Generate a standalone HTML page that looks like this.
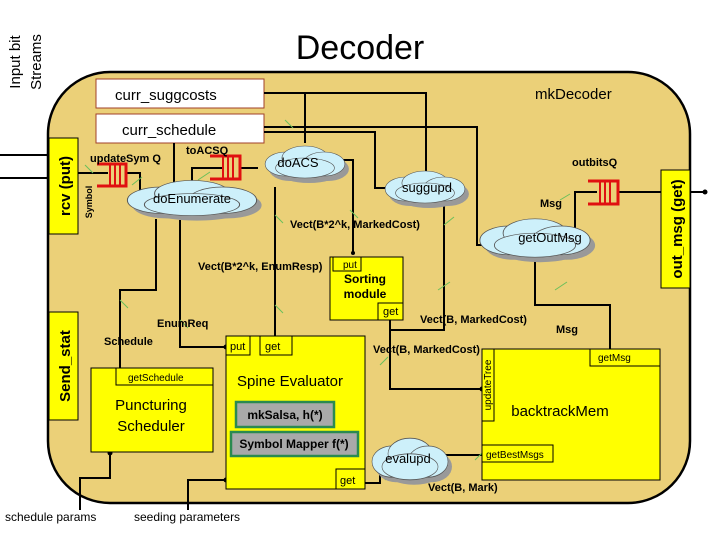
<!DOCTYPE html>
<html><head><meta charset="utf-8"><style>
body{margin:0;background:#fff;}
svg{display:block;font-family:"Liberation Sans",sans-serif;}
.b{font-weight:bold;font-size:11px;}
</style></head><body>
<svg width="720" height="540" viewBox="0 0 720 540" xmlns="http://www.w3.org/2000/svg">
<defs>
<g id="cl">
<ellipse cx="-18" cy="2" rx="20" ry="12"/><ellipse cx="0" cy="-4" rx="22" ry="12"/><ellipse cx="18" cy="2" rx="20" ry="12"/><ellipse cx="0" cy="6" rx="28" ry="10"/>
</g>
<marker id="ar" markerWidth="6" markerHeight="6" refX="5" refY="3" orient="auto"><path d="M0,0 L6,3 L0,6z" fill="#000"/></marker>
</defs>
<text x="360" y="59" font-size="34" text-anchor="middle">Decoder</text>
<text transform="translate(20,62) rotate(-90)" font-size="15" text-anchor="middle">Input bit</text>
<text transform="translate(41,62) rotate(-90)" font-size="15" text-anchor="middle">Streams</text>
<rect x="48" y="72" width="642" height="431" rx="62" fill="#ebd078" stroke="#000" stroke-width="2.5"/>
<rect x="96" y="79" width="168" height="29" fill="#fff" stroke="#a0402a"/>
<text x="115" y="100" font-size="15">curr_suggcosts</text>
<rect x="96" y="114" width="168" height="29" fill="#fff" stroke="#a0402a"/>
<text x="122" y="135" font-size="15">curr_schedule</text>
<text x="535" y="99" font-size="15">mkDecoder</text>
<!-- lines -->
<g stroke="#000" stroke-width="2" fill="none">
<path d="M0,155H49M0,178H49"/>
<path d="M264,93H426V172M305,93V143"/>
<path d="M264,127H477V245H500M264,132H375V188H386"/>
<path d="M78,173H108M126,173H140V195H150M174,143V187M192,187V168H222M240,168H258"/>
<path d="M330,160H353V253"/>
<path d="M275,187V336"/>
<path d="M156,219V290H120V368"/>
<path d="M180,220V347H226"/>
<path d="M444,193V330H390V389H482M390,320V330"/>
<path d="M535,253V305H610V349"/>
<path d="M575,228V192H597M618,192H705"/>
<path d="M482,455H432"/>
<path d="M365,483H380V472"/>
<path d="M80,510V478H110V452M188,510V480H226"/>
</g>
<g fill="#000"><circle cx="49" cy="155" r="2.5"/><circle cx="49" cy="178" r="2.5"/><circle cx="705" cy="192" r="2.5"/><circle cx="110" cy="453" r="2.5"/><circle cx="226" cy="480" r="2.5"/><circle cx="226" cy="347" r="2.5"/><circle cx="482" cy="389" r="2.5"/><circle cx="432" cy="455" r="2.5"/><circle cx="444" cy="195" r="2"/><circle cx="353" cy="253" r="2"/></g>
<!-- green ticks -->
<g stroke="#6bbf5a" stroke-width="1">
<path d="M85,165l8,8M132,185l10,-8M198,180l12,-8M285,120l8,8M326,175l10,-8M350,210l8,8M444,225l10,-8M438,290l12,-8M560,200l10,-6M555,290l12,-8M275,215l8,8M275,305l8,8M120,300l8,8M180,320l8,8M380,365l8,-8M385,480l8,-8M475,460l8,-8"/>
</g>
<!-- side boxes -->
<rect x="49" y="138" width="29" height="96" fill="#ffff00" stroke="#000"/>
<text transform="translate(70,186) rotate(-90)" font-size="15" font-weight="bold" text-anchor="middle">rcv (put)</text>
<text transform="translate(92,202) rotate(-90)" font-size="9" font-weight="bold" text-anchor="middle">Symbol</text>
<rect x="661" y="170" width="29" height="118" fill="#ffff00" stroke="#000"/>
<text transform="translate(682,229) rotate(-90)" font-size="15" font-weight="bold" text-anchor="middle">out_msg (get)</text>
<rect x="49" y="312" width="29" height="108" fill="#ffff00" stroke="#000"/>
<text transform="translate(70,366) rotate(-90)" font-size="15" font-weight="bold" text-anchor="middle">Send_stat</text>
<!-- queues -->
<g fill="none" stroke="#e01010" stroke-width="3">
<path d="M97,164H126V186H97"/><path d="M210,156H240V179H210"/><path d="M588,181H618V204H588"/>
</g>
<g stroke="#e01010" stroke-width="2">
<path d="M110,164V186M115,164V186M120,164V186M223,156V179M228,156V179M233,156V179M600,181V204M605,181V204M610,181V204"/>
</g>
<text x="90" y="162" class="b">updateSym Q</text>
<text x="186" y="154" class="b">toACSQ</text>
<text x="572" y="166" class="b">outbitsQ</text>
<!-- clouds -->
<g fill="#999"><use href="#cl" transform="translate(309,167) scale(1.05,1)"/><use href="#cl" transform="translate(197,203) scale(1.7,1.1)"/><use href="#cl" transform="translate(429,192) scale(1.05,1)"/><use href="#cl" transform="translate(540,243) scale(1.45,1.2)"/><use href="#cl" transform="translate(414,464) scale(1,1.3)"/></g>
<g fill="#cdf0fa" stroke="#555" stroke-width="0.6"><use href="#cl" transform="translate(305,162) scale(1.05,1)"/><use href="#cl" transform="translate(192,198) scale(1.7,1.1)"/><use href="#cl" transform="translate(425,187) scale(1.05,1)"/><use href="#cl" transform="translate(535,238) scale(1.45,1.2)"/><use href="#cl" transform="translate(410,459) scale(1,1.3)"/></g>
<g font-size="13" text-anchor="middle"><text x="298" y="167">doACS</text><text x="192" y="203">doEnumerate</text><text x="427" y="192">suggupd</text><text x="550" y="242">getOutMsg</text><text x="408" y="463">evalupd</text></g>
<!-- Sorting -->
<rect x="330" y="257" width="73" height="63" fill="#ffff00" stroke="#000"/>
<rect x="333" y="257" width="28" height="14" fill="#ffff00" stroke="#000"/>
<text x="343" y="268" font-size="10">put</text>
<text x="365" y="283" font-size="12" font-weight="bold" text-anchor="middle">Sorting</text>
<text x="365" y="298" font-size="12" font-weight="bold" text-anchor="middle">module</text>
<rect x="378" y="303" width="25" height="17" fill="#ffff00" stroke="#000"/>
<text x="383" y="315" font-size="11">get</text>
<!-- Puncturing -->
<rect x="91" y="368" width="122" height="84" fill="#ffff00" stroke="#000"/>
<rect x="116" y="368" width="97" height="17" fill="#ffff00" stroke="#000"/>
<text x="128" y="381" font-size="10">getSchedule</text>
<text x="151" y="410" font-size="15" text-anchor="middle">Puncturing</text>
<text x="151" y="431" font-size="15" text-anchor="middle">Scheduler</text>
<!-- Spine -->
<rect x="226" y="336" width="139" height="153" fill="#ffff00" stroke="#000"/>
<rect x="226" y="336" width="24" height="19" fill="#ffff00" stroke="#000"/>
<rect x="260" y="336" width="32" height="19" fill="#ffff00" stroke="#000"/>
<text x="230" y="350" font-size="11">put</text><text x="265" y="350" font-size="11">get</text>
<text x="290" y="386" font-size="15" text-anchor="middle">Spine Evaluator</text>
<rect x="236" y="402" width="98" height="25" fill="#a9a9a9" stroke="#2a8a50" stroke-width="2.5"/>
<text x="285" y="419" font-size="12" font-weight="bold" text-anchor="middle">mkSalsa, h(*)</text>
<rect x="231" y="432" width="127" height="24" fill="#a9a9a9" stroke="#2a8a50" stroke-width="2.5"/>
<text x="294" y="448" font-size="12" font-weight="bold" text-anchor="middle">Symbol Mapper f(*)</text>
<rect x="336" y="469" width="29" height="20" fill="#ffff00" stroke="#000"/>
<text x="340" y="484" font-size="11">get</text>
<!-- backtrack -->
<rect x="482" y="349" width="178" height="131" fill="#ffff00" stroke="#000"/>
<rect x="482" y="349" width="12" height="72" fill="#ffff00" stroke="#000"/>
<text transform="translate(491,385) rotate(-90)" font-size="10" text-anchor="middle">updateTree</text>
<rect x="590" y="349" width="70" height="17" fill="#ffff00" stroke="#000"/>
<text x="598" y="361" font-size="10">getMsg</text>
<rect x="482" y="445" width="71" height="17" fill="#ffff00" stroke="#000"/>
<text x="486" y="458" font-size="10">getBestMsgs</text>
<text x="560" y="416" font-size="15" text-anchor="middle">backtrackMem</text>
<!-- labels -->
<g font-size="11" font-weight="bold">
<text x="540" y="207">Msg</text>
<text x="290" y="228">Vect(B*2^k, MarkedCost)</text>
<text x="198" y="270">Vect(B*2^k, EnumResp)</text>
<text x="420" y="323">Vect(B, MarkedCost)</text>
<text x="556" y="333">Msg</text>
<text x="157" y="327">EnumReq</text>
<text x="104" y="345">Schedule</text>
<text x="373" y="353">Vect(B, MarkedCost)</text>
<text x="428" y="491">Vect(B, Mark)</text>
</g>
<text x="5" y="521" font-size="12">schedule params</text>
<text x="134" y="521" font-size="12">seeding parameters</text>
</svg>
</body></html>
